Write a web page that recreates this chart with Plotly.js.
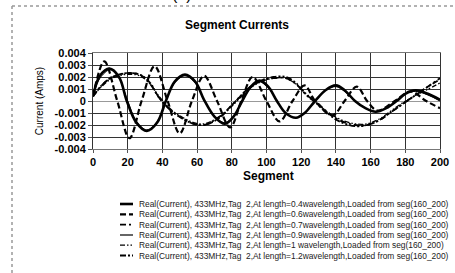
<!DOCTYPE html>
<html>
<head>
<meta charset="utf-8">
<script src="https://cdn.plot.ly/plotly-3.0.1.min.js"></script>
<style>
html,body{margin:0;padding:0;background:#fff;}
#chart{width:455px;height:273px;}
</style>
</head>
<body>
<div id="chart"></div>
<script>
// ---- data ----
var seriesNames = [
  "Real(Current), 433MHz,Tag\u00a0\u00a02,At length=0.4wavelength,Loaded from seg(160_200)",
  "Real(Current), 433MHz,Tag\u00a0\u00a02,At length=0.6wavelength,Loaded from seg(160_200)",
  "Real(Current), 433MHz,Tag\u00a0\u00a02,At length=0.7wavelength,Loaded from seg(160_200)",
  "Real(Current), 433MHz,Tag\u00a0\u00a02,At length=0.9wavelength,Loaded from seg(160_200)",
  "Real(Current), 433MHz,Tag\u00a0\u00a02,At length=1 wavelength,Loaded from seg(160_200)",
  "Real(Current), 433MHz,Tag\u00a0\u00a02,At length=1.2wavelength,Loaded from seg(160_200)"
];

var segA = [0, 4, 9.5, 15, 19.5, 25, 31, 37, 42, 47, 53, 59, 64, 70, 76, 81, 86, 91, 96, 101, 106, 111, 117, 122, 128, 134, 140, 145, 151, 157, 163, 169, 175, 180, 186, 193, 200];
var curA = [0.0004, 0.0021, 0.0027, 0.0020, 0.0000, -0.0018, -0.0025, -0.0018, 0.0000, 0.0016, 0.0022, 0.0016, 0.0001, -0.0013, -0.0019, -0.0013, 0.0000, 0.0012, 0.0017, 0.0012, 0.0000, -0.0010, -0.0014, -0.0010, 0.0000, 0.0009, 0.0013, 0.0009, 0.0000, -0.0006, -0.0009, -0.0006, 0.0000, 0.0006, 0.0009, 0.0006, 0.0001];

var segB = [0, 6.5, 14, 21, 28, 35.5, 43, 50, 57, 64, 71.5, 79, 85.5, 92, 100, 107.5, 115, 122, 128, 138, 145, 152, 158, 164, 174, 183, 192, 200];
var curB = [0.0004, 0.0033, 0.0000, -0.0031, 0.0000, 0.0029, 0.0000, -0.0027, 0.0000, 0.0021, 0.0000, -0.0022, 0.0000, 0.0020, 0.0000, -0.0017, 0.0000, 0.0013, 0.0000, -0.0012, 0.0000, 0.0012, 0.0000, -0.0008, 0.0000, 0.0008, 0.0000, -0.0006];

var segC = [0, 5, 10, 18, 27, 33, 38, 45, 52, 58, 64, 73, 81, 90, 97, 104, 111, 117, 123, 128, 135, 142, 151, 158, 165, 172, 178, 185, 192, 200];
var curC = [0.0004, 0.0013, 0.0019, 0.0023, 0.0022, 0.0014, 0.0003, -0.0008, -0.0015, -0.0019, -0.0020, -0.0013, -0.0002, 0.0011, 0.0017, 0.0019, 0.0019, 0.0014, 0.0005, 0.0000, -0.0009, -0.0016, -0.0020, -0.0020, -0.0016, -0.0009, -0.0003, 0.0004, 0.0011, 0.0019];

var segD = [0, 4, 10, 15, 20, 25, 31, 37, 42, 47, 53, 59, 64, 70, 76, 81, 86, 91, 96, 101, 106, 111, 117, 122, 128, 134, 140, 145, 151, 157, 163, 169, 175, 180, 186, 193, 200];
var curD = [0.0004, 0.0019, 0.0026, 0.0019, 0.0000, -0.0017, -0.0024, -0.0017, 0.0000, 0.0015, 0.0021, 0.0015, 0.0001, -0.0013, -0.0018, -0.0013, 0.0000, 0.0011, 0.0016, 0.0011, 0.0000, -0.0010, -0.0014, -0.0010, 0.0000, 0.0009, 0.0012, 0.0008, 0.0000, -0.0006, -0.0009, -0.0006, 0.0000, 0.0006, 0.0008, 0.0005, 0.0000];

var segE = [0, 5, 10, 18, 27, 33, 38, 45, 52, 58, 64, 73, 81, 90, 97, 104, 111, 117, 123, 128, 135, 142, 151, 158, 165, 172, 178, 185, 192, 200];
var curE = [0.0004, 0.0012, 0.0018, 0.0022, 0.0021, 0.0014, 0.0004, -0.0007, -0.0014, -0.0018, -0.0019, -0.0013, -0.0003, 0.0010, 0.0016, 0.0019, 0.0019, 0.0014, 0.0006, 0.0000, -0.0009, -0.0015, -0.0019, -0.0019, -0.0015, -0.0008, -0.0002, 0.0004, 0.0009, 0.0015];

var segF = [0, 5, 10, 18, 27, 33, 38, 45, 52, 58, 64, 73, 81, 90, 97, 104, 111, 117, 123, 128, 135, 142, 151, 158, 165, 172, 178, 185, 192, 200];
var curF = [0.0004, 0.0013, 0.0019, 0.0023, 0.0022, 0.0015, 0.0003, -0.0008, -0.0015, -0.0019, -0.0020, -0.0014, -0.0002, 0.0011, 0.0017, 0.0020, 0.0020, 0.0015, 0.0005, -0.0001, -0.0010, -0.0017, -0.0021, -0.0020, -0.0016, -0.0009, -0.0003, 0.0004, 0.0011, 0.0018];

var xTickVals = [0, 20, 40, 60, 80, 100, 120, 140, 160, 180, 200];
var yTickVals = [-0.004, -0.003, -0.002, -0.001, 0, 0.001, 0.002, 0.003, 0.004];
var yTickText = ["-0.004", "-0.003", "-0.002", "-0.001", "0", "0.001", "0.002", "0.003", "0.004"];

var chartTitle = "Segment Currents";
var xTitle = "Segment";
var yTitle = "Current (Amps)";

// ---- styles ----
var xs = [segA, segB, segC, segD, segE, segF];
var ys = [curA, curB, curC, curD, curE, curF];
var dashes = ["solid", "6px,3px", "6px,3px,2px,3px", "solid", "5px,2px,1.5px,2px,1.5px,2px", "6px,2px,2px,2px,2px,2px"];
var widths = [2.6, 2.2, 1.8, 1, 1.3, 1.8];

var traces = [];
for (var i = 0; i < 6; i++) {
  traces.push({
    x: xs[i], y: ys[i], type: "scatter", mode: "lines", name: seriesNames[i],
    line: {color: "#000", width: widths[i], dash: dashes[i], shape: "spline", smoothing: 1},
    showlegend: false, hoverinfo: "skip"
  });
}

// plot area in pixels: x 93..440, y 53..149
var L = 93, R = 440, T = 53, B = 149;
function px(p) { return (p - L) / (R - L); }
function py(p) { return (B - p) / (B - T); }

var shapes = [
  {type: "line", xref: "paper", yref: "paper", x0: px(12), x1: px(470), y0: py(6), y1: py(6), line: {color: "#999", width: 1.5, dash: "dot"}},
  {type: "line", xref: "paper", yref: "paper", x0: px(12), x1: px(12), y0: py(6), y1: py(280), line: {color: "#999", width: 1.5, dash: "dot"}}
];
var annotations = [
  {xref: "paper", yref: "paper", x: px(182), y: py(5), xanchor: "center", yanchor: "bottom", text: "(a)", showarrow: false, font: {family: "Liberation Sans, Arial, sans-serif", size: 16, color: "#000"}},
  {xref: "paper", yref: "paper", x: px(268), y: py(176), xanchor: "center", yanchor: "middle", text: "<b>" + xTitle + "</b>", showarrow: false, font: {family: "Liberation Sans, Arial, sans-serif", size: 12, color: "#000"}}
];
var rowY = [204, 214.3, 224.6, 235, 245.2, 255.5];
for (var k = 0; k < 6; k++) {
  shapes.push({type: "line", xref: "paper", yref: "paper", x0: px(120), x1: px(133), y0: py(rowY[k]), y1: py(rowY[k]),
    line: {color: "#000", width: Math.max(widths[k], 1.2), dash: dashes[k]}});
  annotations.push({xref: "paper", yref: "paper", x: px(137), y: py(rowY[k]), xanchor: "left", yanchor: "middle",
    text: seriesNames[k], showarrow: false, font: {family: "Liberation Sans, Arial, sans-serif", size: 8.4, color: "#222"}});
}

var layout = {
  width: 455, height: 273,
  margin: {l: L, r: 455 - R, t: T, b: 273 - B, pad: 0},
  paper_bgcolor: "#fff", plot_bgcolor: "#fff",
  font: {family: "Liberation Sans, Arial, sans-serif", color: "#000"},
  title: {text: "<b>" + chartTitle + "</b>", font: {size: 12, color: "#000"}, xref: "container", yref: "container", x: 237 / 455, y: 1 - 25 / 273, xanchor: "center", yanchor: "middle"},
  xaxis: {
    range: [0, 200], tickvals: xTickVals, ticks: "outside", ticklen: 3, tickcolor: "#555",
    showgrid: true, gridcolor: "#333", gridwidth: 1, zeroline: false,
    showline: true, linecolor: "#777", linewidth: 1, mirror: true,
    tickfont: {size: 11, color: "#000", weight: "bold"}
  },
  yaxis: {
    range: [-0.004, 0.004], tickvals: yTickVals, ticktext: yTickText, ticks: "outside", ticklen: 4, tickcolor: "#555",
    showgrid: true, gridcolor: "#333", gridwidth: 1, zeroline: true, zerolinecolor: "#999", zerolinewidth: 1,
    showline: true, linecolor: "#333", linewidth: 1, mirror: true,
    tickfont: {size: 11, color: "#000", weight: "bold"},
    title: {text: yTitle, font: {size: 10, color: "#000"}, standoff: 9}
  },
  shapes: shapes,
  annotations: annotations
};

Plotly.newPlot("chart", traces, layout, {staticPlot: true, displayModeBar: false});
</script>
</body>
</html>
